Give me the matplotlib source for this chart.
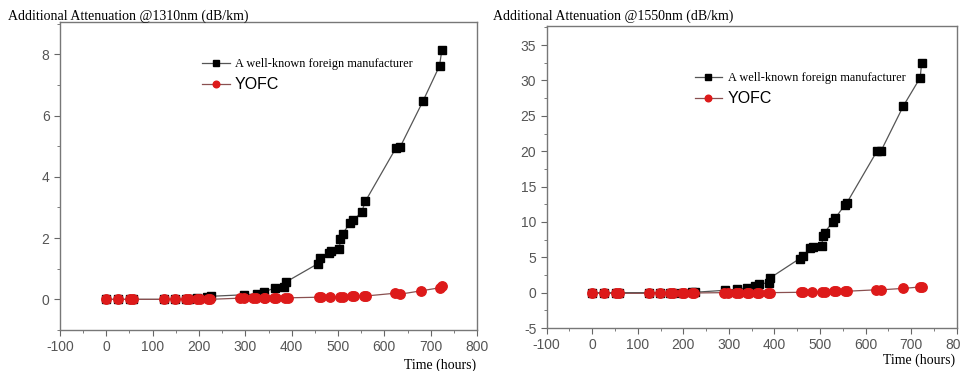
import matplotlib
matplotlib.use("Agg")
import matplotlib.pyplot as plt
from matplotlib.ticker import MultipleLocator

plt.rcParams["axes.unicode_minus"] = False

# ---- data: 1310 nm ----
t_black_1310 = [0, 25, 52, 58, 124, 149, 171, 178, 196, 218, 225,
                297, 325, 340, 365, 384, 388,
                456, 462, 480, 484, 503, 505, 510, 526, 533, 551, 559,
                625, 634, 683, 719, 724]
a_black_1310 = [0, 0, 0, 0, 0, 0, 0, 0, 0.05, 0.08, 0.1,
                0.15, 0.18, 0.24, 0.38, 0.4, 0.57,
                1.16, 1.35, 1.52, 1.58, 1.65, 1.97, 2.14, 2.5, 2.58, 2.85, 3.2,
                4.94, 4.97, 6.46, 7.62, 8.13]
t_red_1310 = [0, 25, 52, 58, 124, 149, 171, 178, 196, 202, 219, 223,
              289, 297, 316, 322, 340, 343, 362, 367, 386, 391,
              458, 463, 482, 505, 510, 530, 535, 555, 560,
              623, 634, 680, 720, 724]
a_red_1310 = [0, 0, 0, 0, 0, 0, 0, 0, 0, 0, 0, 0,
              0.04, 0.04, 0.04, 0.04, 0.04, 0.04, 0.05, 0.05, 0.05, 0.05,
              0.07, 0.07, 0.08, 0.08, 0.09, 0.1, 0.1, 0.11, 0.11,
              0.2, 0.17, 0.28, 0.38, 0.42]

# ---- data: 1550 nm ----
t_black_1550 = [0, 25, 52, 58, 124, 149, 171, 178, 196, 218, 225,
                291, 318, 340, 358, 365, 387, 391,
                455, 462, 479, 484, 504, 506, 510, 528, 533, 554, 559,
                625, 634, 683, 720, 723]
a_black_1550 = [0, 0, 0, 0, 0, 0, 0, 0, 0, 0.05, 0.05,
                0.33, 0.47, 0.7, 0.9, 1.2, 1.4, 2.1,
                4.8, 5.2, 6.25, 6.4, 6.55, 8.0, 8.5, 10.0, 10.5, 12.35, 12.7,
                20.0, 20.05, 26.4, 30.4, 32.5]
t_red_1550 = [0, 25, 52, 58, 124, 149, 171, 178, 196, 202, 219, 223,
              289, 297, 316, 322, 340, 343, 362, 367, 386, 391,
              458, 463, 482, 505, 510, 530, 535, 555, 560,
              623, 634, 683, 720, 724]
a_red_1550 = [-0.1, -0.1, -0.1, -0.1, -0.1, -0.05, -0.05, -0.05, -0.05, -0.05, -0.05, -0.05,
              0, 0, 0, 0, 0, 0, 0, 0, 0, 0,
              0.05, 0.05, 0.1, 0.15, 0.15, 0.2, 0.2, 0.2, 0.2,
              0.4, 0.4, 0.6, 0.8, 0.85]

labels = ["A well-known foreign manufacturer", "YOFC"]
ylabels = ["Additional Attenuation @1310nm (dB/km)",
           "Additional Attenuation @1550nm (dB/km)"]
xlabel = "Time (hours)"

serif = ["Liberation Serif", "DejaVu Serif"]
sans = ["Liberation Sans", "DejaVu Sans"]

fig = plt.figure(figsize=(9.61, 3.71), dpi=100)
ax1 = fig.add_axes([0.0624, 0.1105, 0.434, 0.830])
ax2 = fig.add_axes([0.5689, 0.1159, 0.4266, 0.814])

datasets = [
    (ax1, t_black_1310, a_black_1310, t_red_1310, a_red_1310, (-1, 9.05), 2, 1,
     (0.31, 0.925)),
    (ax2, t_black_1550, a_black_1550, t_red_1550, a_red_1550, (-5, 37.7), 5, 2.5,
     (0.33, 0.89)),
]

for ax, tb, ab, tr, ar, ylim, ymaj, ymin, anchor in datasets:
    lb, = ax.plot(tb, ab, color="#555555", lw=0.9, marker="s", ms=6.3,
                  mfc="black", mec="black", zorder=2)
    lr, = ax.plot(tr, ar, color="#8a5050", lw=0.9, marker="o", ms=6.8,
                  mfc="#dd1a1a", mec="#dd1a1a", zorder=3)
    ax.set_xlim(-100, 800)
    ax.set_ylim(*ylim)
    ax.xaxis.set_major_locator(MultipleLocator(100))
    ax.xaxis.set_minor_locator(MultipleLocator(50))
    ax.yaxis.set_major_locator(MultipleLocator(ymaj))
    ax.yaxis.set_minor_locator(MultipleLocator(ymin))
    ax.tick_params(which="both", direction="out", colors="#666666",
                   labelcolor="#555555", labelsize=10)
    ax.tick_params(which="major", length=4)
    ax.tick_params(which="minor", length=2.5)
    for lab in ax.get_xticklabels() + ax.get_yticklabels():
        lab.set_family(sans)
    for sp in ax.spines.values():
        sp.set_color("#777777")
        sp.set_linewidth(1.0)
    leg = ax.legend([lb, lr], labels, loc="upper left",
                    bbox_to_anchor=anchor, frameon=False,
                    handlelength=2.0, handletextpad=0.4, labelspacing=0.45,
                    markerscale=0.7)
    t0, t1 = leg.get_texts()
    t0.set_family(serif)
    t0.set_fontsize(8.8)
    t1.set_family(sans)
    t1.set_fontsize(11.5)

fig.text(0.008, 0.955, ylabels[0], family=serif, fontsize=10, va="center")
fig.text(0.513, 0.955, ylabels[1], family=serif, fontsize=10, va="center")
fig.text(0.4955, 0.015, xlabel, family=serif, fontsize=10, ha="right", va="center")
fig.text(0.994, 0.03, xlabel, family=serif, fontsize=10, ha="right", va="center")

fig.savefig("out.png", dpi=100)
